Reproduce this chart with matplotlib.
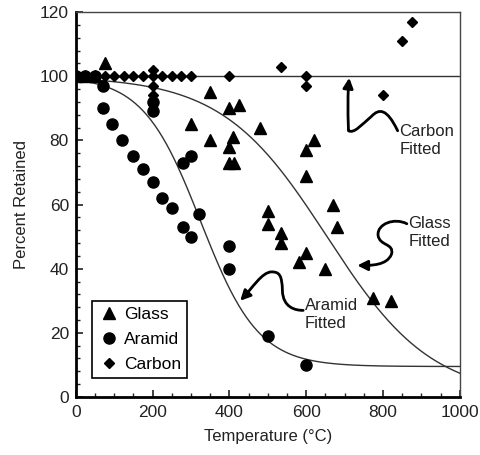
import numpy as np
import matplotlib
matplotlib.use("Agg")
import matplotlib.pyplot as plt
from matplotlib.path import Path
from matplotlib.patches import FancyArrowPatch
from matplotlib.ticker import MultipleLocator

plt.rcParams['font.family'] = ['Liberation Sans', 'DejaVu Sans']

# data
glass_t = [0, 25, 50, 75, 300, 350, 350, 400, 425, 410, 400, 398, 412, 480,
           500, 500, 535, 535, 600, 580, 650, 600, 620, 600, 670, 680, 775, 820]
glass_p = [100, 100, 100, 104, 85, 95, 80, 90, 91, 81, 78, 73, 73, 84,
           58, 54, 51, 48, 45, 42, 40, 77, 80, 69, 60, 53, 31, 30]

aramid_t = [0, 25, 50, 70, 70, 95, 120, 148, 175, 200, 200, 200, 225, 250,
            280, 300, 280, 300, 320, 400, 400, 500, 600]
aramid_p = [100, 100, 100, 97, 90, 85, 80, 75, 71, 67, 92, 89, 62, 59,
            53, 50, 73, 75, 57, 47, 40, 19, 10]

carbon_t = [0, 25, 50, 75, 100, 125, 150, 175, 200, 225, 250, 275, 300,
            200, 200, 200, 400, 535, 600, 600, 800, 850, 875]
carbon_p = [100, 100, 100, 100, 100, 100, 100, 100, 100, 100, 100, 100, 100,
            102, 97, 94, 100, 103, 100, 97, 94, 111, 117]

# fitted curve parameters (logistic: low + (100-low)/(1+exp((T-T0)/s)))
glass_fit = (654, 137, 0)
aramid_fit = (325, 75, 9.5)


def fitted(T, T0, s, low):
    return low + (100 - low) / (1 + np.exp((T - T0) / s))


fig = plt.figure(figsize=(4.8, 4.55), dpi=100)
ax = fig.add_axes([0.158, 0.1275, 0.8, 0.846])

T = np.linspace(0, 1000, 400)
ax.plot(T, fitted(T, *glass_fit), color='#333333', lw=1.0, zorder=2)
ax.plot(T, fitted(T, *aramid_fit), color='#333333', lw=1.0, zorder=2)
ax.axhline(100, color='#333333', lw=1.0, zorder=2)

ax.plot(glass_t, glass_p, ls='none', marker='^', ms=8.5, color='black',
        label='Glass', zorder=3)
ax.plot(aramid_t, aramid_p, ls='none', marker='o', ms=8, color='black',
        label='Aramid', zorder=3)
ax.plot(carbon_t, carbon_p, ls='none', marker='D', ms=5.5, color='black',
        label='Carbon', zorder=3)

ax.set_xlim(0, 1000)
ax.set_ylim(0, 120)
ax.xaxis.set_major_locator(MultipleLocator(200))
ax.xaxis.set_minor_locator(MultipleLocator(50))
ax.yaxis.set_major_locator(MultipleLocator(20))
ax.yaxis.set_minor_locator(MultipleLocator(4))
ax.tick_params(which='both', direction='in', labelsize=12.5, colors='#222222')
ax.tick_params(which='major', length=5, width=1.2)
ax.tick_params(axis='x', which='major', pad=6)
ax.tick_params(axis='y', which='major', pad=5)
ax.tick_params(which='minor', length=3, width=1)
ax.tick_params(top=False, right=False)
for side in ['left', 'bottom']:
    ax.spines[side].set_linewidth(2)
for side in ['top', 'right']:
    ax.spines[side].set_linewidth(1)
    ax.spines[side].set_color('#444444')

ax.set_xlabel('Temperature (°C)', fontsize=12, color='#222222', labelpad=6)
ax.set_ylabel('Percent Retained', fontsize=12, color='#222222', labelpad=8)

leg = ax.legend(loc='lower left', bbox_to_anchor=(0.042, 0.05), fontsize=12.5,
                fancybox=False, framealpha=1, edgecolor='black',
                handletextpad=0.2, handlelength=1.3, borderpad=0.35,
                labelspacing=0.55, borderaxespad=0)
leg.get_frame().set_linewidth(1.2)

# labels with curly arrows
ax.text(843, 85, 'Carbon\nFitted', fontsize=12, color='#222222',
        va='top', ha='left', linespacing=1.25)
ax.text(866, 56.5, 'Glass\nFitted', fontsize=12, color='#222222',
        va='top', ha='left', linespacing=1.25)
ax.text(596, 31, 'Aramid\nFitted', fontsize=12, color='#222222',
        va='top', ha='left', linespacing=1.25)

C4 = Path.CURVE4
arrows = [
    [(838, 83), (810, 90), (790, 90), (770, 87.5),
     (745, 85), (725, 82), (710, 83),
     (708, 90), (708, 95), (712, 99.5)],
    [(862, 54), (830, 56), (785, 54), (787, 50.5),
     (790, 47), (830, 48), (822, 44.5),
     (810, 41), (770, 41), (733, 41)],
    [(592, 27), (570, 27), (540, 28), (538, 33),
     (537, 38), (530, 39), (510, 39),
     (485, 39), (460, 34), (428, 30)],
]
for verts in arrows:
    codes = [Path.MOVETO] + [C4] * (len(verts) - 1)
    arr = FancyArrowPatch(path=Path(verts, codes),
                          arrowstyle='-|>,head_length=6,head_width=3',
                          color='black', lw=2, zorder=4)
    ax.add_patch(arr)

fig.savefig('out.png', dpi=100)
